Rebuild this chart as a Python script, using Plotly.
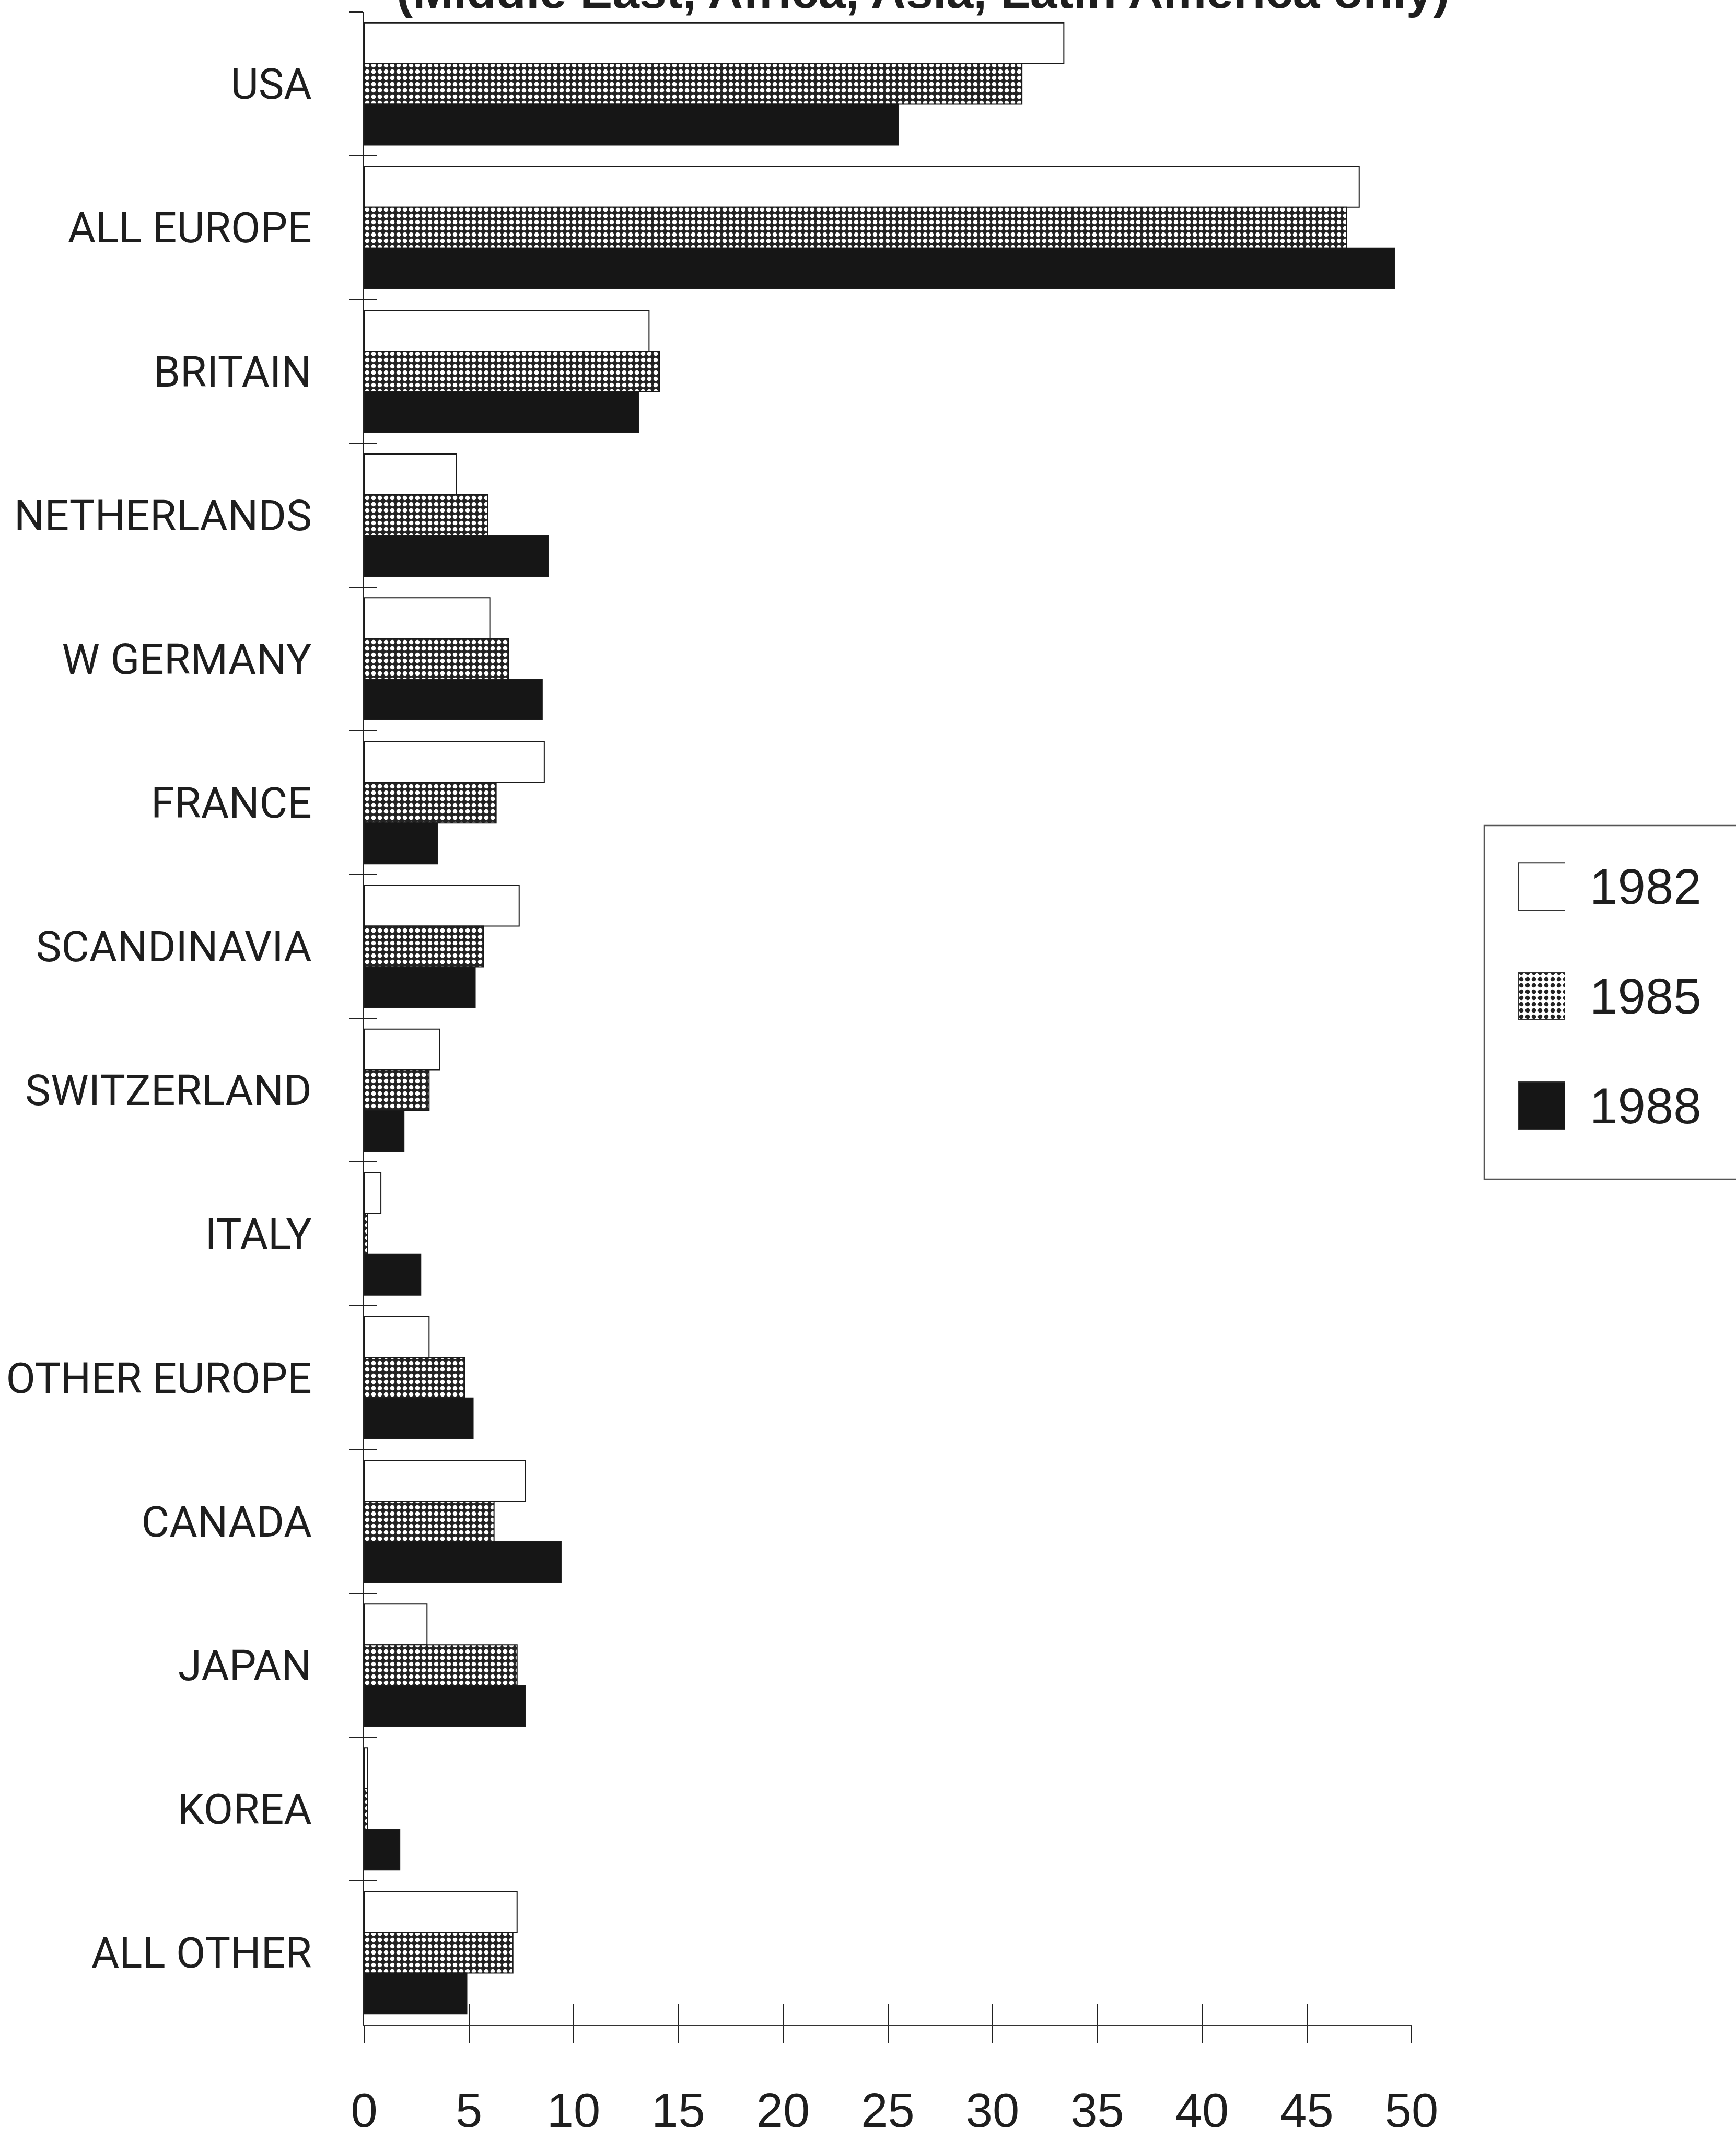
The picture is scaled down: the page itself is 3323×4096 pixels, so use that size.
import plotly.graph_objects as go

# Shares by source region (percent), three survey years
regions = [
    "USA", "ALL EUROPE", "BRITAIN", "NETHERLANDS", "W GERMANY", "FRANCE",
    "SCANDINAVIA", "SWITZERLAND", "ITALY", "OTHER EUROPE", "CANADA",
    "JAPAN", "KOREA", "ALL OTHER",
]
share_1982 = [33.4, 47.5, 13.6, 4.4, 6.0, 8.6, 7.4, 3.6, 0.8, 3.1, 7.7, 3.0, 0.15, 7.3]
share_1985 = [31.4, 46.9, 14.1, 5.9, 6.9, 6.3, 5.7, 3.1, 0.15, 4.8, 6.2, 7.3, 0.15, 7.1]
share_1988 = [25.5, 49.2, 13.1, 8.8, 8.5, 3.5, 5.3, 1.9, 2.7, 5.2, 9.4, 7.7, 1.7, 4.9]
years = ["1982", "1985", "1988"]
x_ticks = [0, 5, 10, 15, 20, 25, 30, 35, 40, 45, 50]
title_text = "(Middle East, Africa, Asia, Latin America only)"

W, H = 3323, 4096
OUTLINE = dict(color="#1a1a1a", width=2)
DOT_BG = "#232323"
SOLID_BLACK = "#161616"
TEXT = "#1e1e1e"
DOTS = dict(shape=".", fgcolor="white", bgcolor=DOT_BG, size=12, solidity=0.4)

series_style = {
    "1982": dict(color="white", line=OUTLINE),
    "1985": dict(color=DOT_BG, line=OUTLINE, pattern=DOTS),
    "1988": dict(color=SOLID_BLACK, line=OUTLINE),
}

fig = go.Figure()
for yr, vals in zip(years, [share_1982, share_1985, share_1988]):
    fig.add_trace(go.Bar(
        x=vals, y=regions, orientation="h", name=yr,
        marker=series_style[yr], showlegend=False,
    ))

# Empty trace so the overlay axes (inner halves of the crossing ticks) get drawn
fig.add_trace(go.Scatter(x=[None], y=[None], xaxis="x2", yaxis="y2",
                         showlegend=False, hoverinfo="skip"))

# Key: one swatch per year on a small helper axis pair, year labels as its tick labels
fig.add_trace(go.Bar(
    x=[1, 1, 1], y=years, orientation="h", xaxis="x3", yaxis="y3",
    width=0.434, offset=-0.217, showlegend=False, hoverinfo="skip",
    marker=dict(
        color=["white", DOT_BG, SOLID_BLACK],
        line=dict(color="#333", width=2),
        pattern=dict(shape=["", ".", ""], fgcolor="white", bgcolor=DOT_BG,
                     size=12, solidity=0.4),
    ),
))

boundaries = [i - 0.5 for i in range(len(regions) + 1)]
x_dom = [697 / W, 2702 / W]
y_dom = [1 - 3875 / H, 1 - 23 / H]
TICK = dict(tickwidth=2, tickcolor="#222")

fig.update_layout(
    template="none",
    width=W, height=H,
    margin=dict(l=0, r=0, t=0, b=0, autoexpand=False),
    paper_bgcolor="white", plot_bgcolor="white",
    showlegend=False,
    barmode="group", bargap=0.15, bargroupgap=0,
    xaxis=dict(
        domain=x_dom, range=[0, 50], tickmode="array", tickvals=x_ticks, anchor="y",
        ticks="outside", ticklen=33, **TICK,
        showline=True, linecolor="#333", linewidth=3,
        showgrid=False, zeroline=False, automargin=False,
        tickfont=dict(family="Liberation Sans, Arial, sans-serif", size=92, color=TEXT),
        ticklabelstandoff=50,
    ),
    xaxis2=dict(
        overlaying="x", anchor="y", side="bottom", range=[0, 50],
        tickmode="array", tickvals=x_ticks,
        ticks="inside", ticklen=40, **TICK,
        showticklabels=False, showline=False, showgrid=False, zeroline=False,
        automargin=False,
    ),
    yaxis=dict(
        domain=y_dom, type="category", categoryorder="array", categoryarray=regions,
        range=[len(regions) - 0.5, -0.5], anchor="x",
        tickson="boundaries", ticks="outside", ticklen=25, **TICK,
        showline=True, linecolor="#222", linewidth=2.5,
        showgrid=False, zeroline=False, automargin=False,
        tickfont=dict(family="Roboto, Liberation Sans, Arial, sans-serif", size=82, color=TEXT),
        ticklabelstandoff=81,
    ),
    yaxis2=dict(
        overlaying="y", anchor="x", side="left",
        range=[len(regions) - 0.5, -0.5], tickmode="array", tickvals=boundaries,
        ticks="inside", ticklen=25, **TICK,
        showticklabels=False, showline=False, showgrid=False, zeroline=False,
        automargin=False,
    ),
    xaxis3=dict(domain=[2906 / W, 2996 / W], range=[0, 1], anchor="y3",
                visible=False, automargin=False),
    yaxis3=dict(
        domain=[1 - 2221 / H, 1 - 1592 / H], anchor="x3", side="right",
        type="category", categoryorder="array", categoryarray=years,
        range=[2.5, -0.5], ticks="", showline=False, showgrid=False, zeroline=False,
        automargin=False,
        tickfont=dict(family="Liberation Sans, Arial, sans-serif", size=96, color=TEXT),
        ticklabelstandoff=46,
    ),
    shapes=[
        dict(type="rect", xref="paper", yref="paper",
             x0=2841 / W, x1=1.05, y0=1 - 2257 / H, y1=1 - 1580 / H,
             line=dict(color="#555", width=2.5), fillcolor="rgba(0,0,0,0)", layer="below"),
    ],
    annotations=[
        dict(text="<b>" + title_text + "</b>", xref="paper", yref="paper",
             x=1766 / W, y=1 - 36 / H, xanchor="center", yanchor="bottom",
             showarrow=False, borderpad=0,
             font=dict(family="Liberation Sans, Arial, sans-serif", size=93, color=TEXT)),
    ],
)

fig.write_html("out.html", config={"displayModeBar": False})
